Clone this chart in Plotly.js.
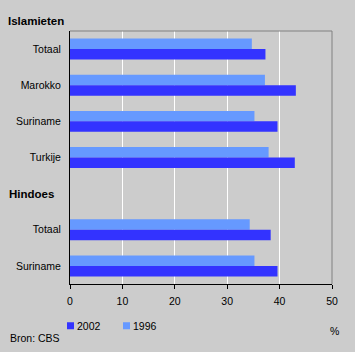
<!DOCTYPE html>
<html>
<head>
<meta charset="utf-8">
<script src="https://cdn.plot.ly/plotly-3.0.1.min.js"></script>
<style>
html,body{margin:0;padding:0;background:#cccccc;}
#chart{width:355px;height:352px;}
</style>
</head>
<body>
<div id="chart"></div>
<script>
// Category slots (top to bottom) and their labels
var categoryIds = ['isl_totaal','isl_marokko','isl_suriname','isl_turkije','hindoes','hin_totaal','hin_suriname'];
var categoryLabels = ['Totaal','Marokko','Suriname','Turkije','','Totaal','Suriname'];
var groupLabels = ['Islamieten','Hindoes'];
var groupSlots = [null,'hindoes'];

// Series values (%)
var values2002 = [37.3, 43.1, 39.6, 42.9, null, 38.3, 39.6];
var values1996 = [34.7, 37.2, 35.2, 37.9, null, 34.3, 35.2];

var xTicks = [0,10,20,30,40,50];
var fontFam = '"Liberation Sans", Arial, sans-serif';

var traces = [
  {type:'bar', orientation:'h', name:'1996', y:categoryIds, x:values1996,
   marker:{color:'#6699ff', line:{width:0}}, legendrank:2, hoverinfo:'x'},
  {type:'bar', orientation:'h', name:'2002', y:categoryIds, x:values2002,
   marker:{color:'#3333ff', line:{width:0}}, legendrank:1, hoverinfo:'x'}
];

var annotations = [
  {xref:'paper', yref:'paper', x:-0.245, y:1.04, xanchor:'left', yanchor:'middle',
   text:'<b>'+groupLabels[0]+'</b>', showarrow:false, font:{family:fontFam,size:11.5,color:'#000'}},
  {xref:'paper', yref:'y', x:-0.24, y:groupSlots[1], xanchor:'left', yanchor:'middle',
   text:'<b>'+groupLabels[1]+'</b>', showarrow:false, font:{family:fontFam,size:11.5,color:'#000'}},
  {xref:'paper', yref:'paper', x:-0.235, y:-0.212, xanchor:'left', yanchor:'middle',
   text:'Bron: CBS', showarrow:false, font:{family:fontFam,size:10.5,color:'#000'}},
  {xref:'paper', yref:'paper', x:1.01, y:-0.185, xanchor:'center', yanchor:'middle',
   text:'%', showarrow:false, font:{family:fontFam,size:10.5,color:'#000'}}
];

var layout = {
  width:355, height:352,
  margin:{l:70, r:23, t:31, b:68, pad:0},
  paper_bgcolor:'#cccccc', plot_bgcolor:'#cccccc',
  font:{family:fontFam, size:10.5, color:'#000'},
  barmode:'group', bargap:0.42, bargroupgap:0,
  showlegend:true,
  legend:{orientation:'h', x:-0.13, xanchor:'left', y:-0.165, yanchor:'middle',
          bgcolor:'rgba(0,0,0,0)', font:{family:fontFam,size:10.5}, itemwidth:30, traceorder:'normal'},
  xaxis:{range:[0,50], tickvals:xTicks, ticktext:xTicks.map(String),
         showgrid:true, gridcolor:'#ffffff', gridwidth:1,
         showline:true, linecolor:'#000', linewidth:1,
         ticks:'outside', ticklen:4, tickcolor:'#000', ticklabelstandoff:3,
         zeroline:false, fixedrange:true},
  yaxis:{type:'category', categoryorder:'array', categoryarray:categoryIds,
         tickvals:categoryIds, ticktext:categoryLabels, autorange:'reversed',
         showgrid:false, showline:true, linecolor:'#000', linewidth:1,
         ticks:'', ticklabelstandoff:6, zeroline:false, fixedrange:true},
  shapes:[
    {type:'line', xref:'paper', yref:'paper', x0:0, x1:1, y0:1, y1:1, line:{color:'#808080', width:1}},
    {type:'line', xref:'paper', yref:'paper', x0:1, x1:1, y0:0, y1:1, line:{color:'#808080', width:1}}
  ],
  annotations:annotations
};

// Compact legend swatches (small squares, text close to swatch)
var legendSymbolCenters = {'2002':70.5, '1996':126.5};
function compactLegend(gd){
  var groups = gd.querySelectorAll('.legend .traces');
  groups.forEach(function(g){
    var txt = g.querySelector('text.legendtext');
    if(!txt) return;
    var name = txt.textContent.trim();
    var target = legendSymbolCenters[name];
    if(target === undefined) return;
    var path = g.querySelector('.legendpoints path');
    if(!path) return;
    path.setAttribute('d','M3.5,3.5H-3.5V-3.5H3.5Z');
    var pr = path.getBoundingClientRect();
    var cx = pr.left + pr.width/2;
    var dx = target - cx;
    var tr = g.getAttribute('transform') || '';
    var m = /translate\(\s*([-\d.e]+)[ ,]+([-\d.e]+)\s*\)/.exec(tr);
    var tx = m ? parseFloat(m[1]) : 0, ty = m ? parseFloat(m[2]) : 0;
    g.setAttribute('transform','translate(' + (tx+dx) + ',' + ty + ')');
    pr = path.getBoundingClientRect();
    var tr2 = txt.getBoundingClientRect();
    var wantLeft = pr.right + 3;
    var curX = parseFloat(txt.getAttribute('x')) || 0;
    txt.setAttribute('x', curX + (wantLeft - tr2.left));
  });
}

Plotly.newPlot('chart', traces, layout, {displayModeBar:false, staticPlot:true}).then(compactLegend);
</script>
</body>
</html>
